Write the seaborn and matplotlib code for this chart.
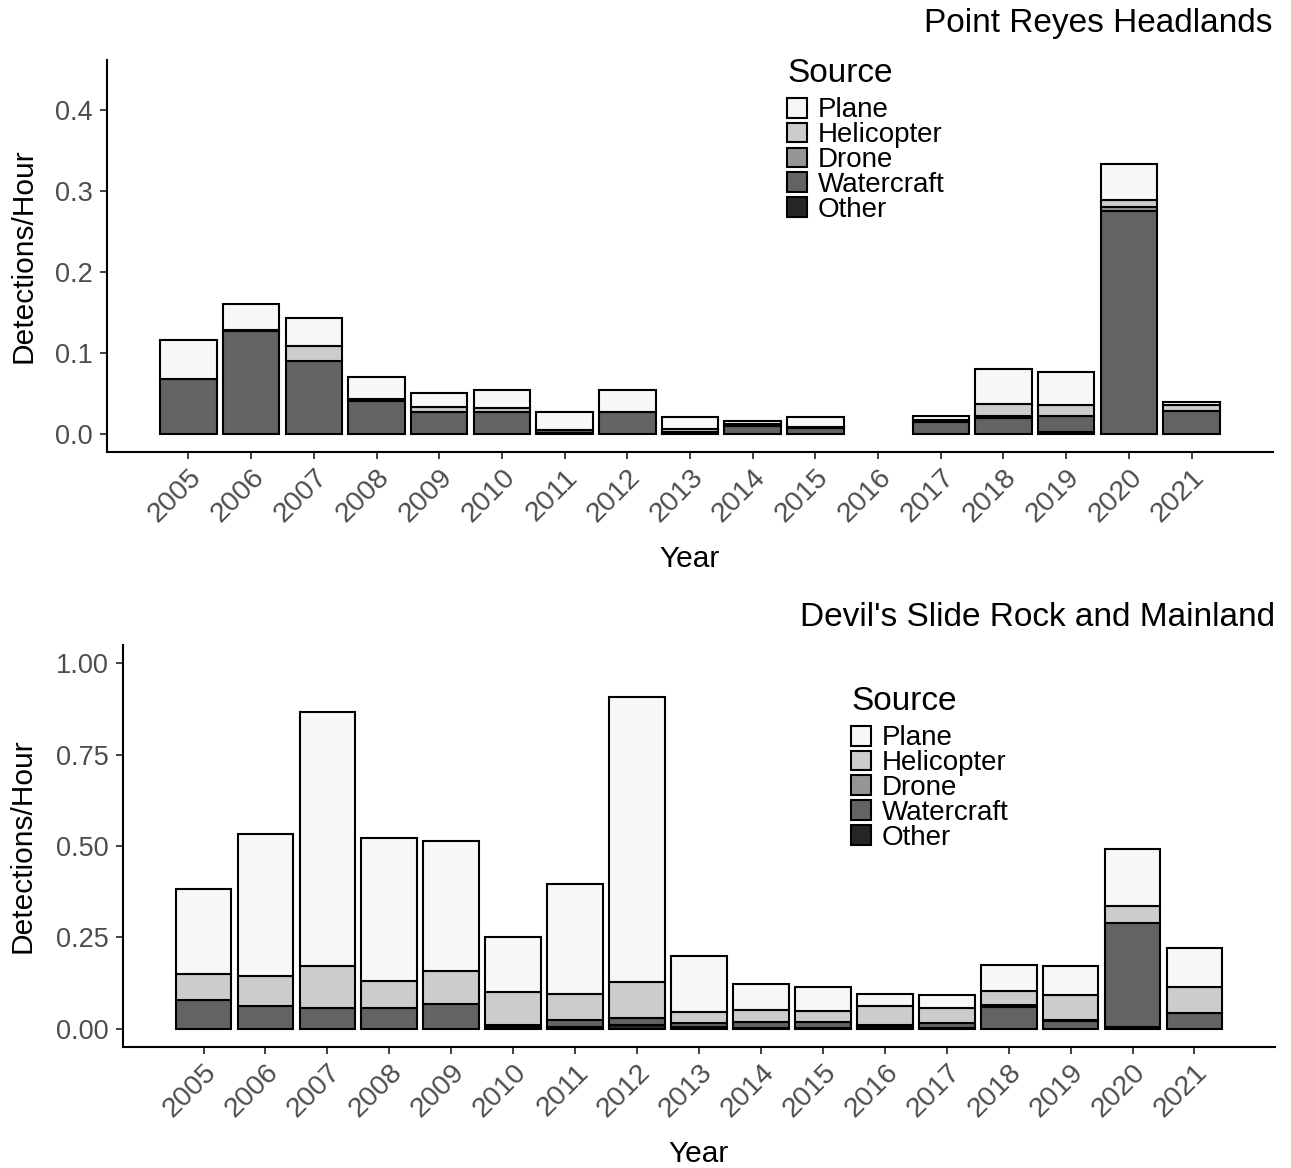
import numpy as np
import pandas as pd
import matplotlib
matplotlib.use("Agg")
import matplotlib.pyplot as plt
from matplotlib.patches import Patch
import seaborn as sns

# ---------------------------------------------------------------- data
years = list(range(2005, 2022))
sources = ["Plane", "Helicopter", "Drone", "Watercraft", "Other"]
source_colors = ["#F7F7F7", "#CCCCCC", "#969696", "#636363", "#252525"]

# Point Reyes Headlands, detections per hour by source
pr_plane      = [0.048, 0.032, 0.035, 0.027, 0.0175, 0.022, 0.022, 0.028, 0.015, 0.003, 0.012, 0.0, 0.004, 0.043, 0.041, 0.045, 0.004]
pr_helicopter = [0.0, 0.002, 0.019, 0.003, 0.0055, 0.005, 0.0, 0.0, 0.003, 0.003, 0.001, 0.0, 0.003, 0.014, 0.013, 0.008, 0.007]
pr_drone      = [0.0, 0.0, 0.0, 0.0, 0.0, 0.0, 0.0, 0.0, 0.0, 0.0, 0.0, 0.0, 0.0, 0.003, 0.0, 0.005, 0.0]
pr_watercraft = [0.068, 0.127, 0.090, 0.041, 0.028, 0.027, 0.004, 0.027, 0.002, 0.010, 0.008, 0.0, 0.015, 0.020, 0.020, 0.276, 0.029]
pr_other      = [0.0, 0.0, 0.0, 0.0, 0.0, 0.0, 0.001, 0.0, 0.001, 0.0, 0.0, 0.0, 0.0, 0.0, 0.003, 0.0, 0.0]

# Devil's Slide Rock and Mainland, detections per hour by source
ds_plane      = [0.230, 0.389, 0.695, 0.390, 0.357, 0.150, 0.300, 0.780, 0.152, 0.070, 0.064, 0.035, 0.034, 0.073, 0.080, 0.158, 0.107]
ds_helicopter = [0.072, 0.082, 0.116, 0.075, 0.089, 0.090, 0.073, 0.099, 0.032, 0.034, 0.031, 0.051, 0.041, 0.038, 0.068, 0.047, 0.072]
ds_drone      = [0.0, 0.0, 0.0, 0.0, 0.0, 0.0, 0.0, 0.0, 0.0, 0.0, 0.0, 0.0, 0.0, 0.004, 0.005, 0.0, 0.0]
ds_watercraft = [0.079, 0.063, 0.057, 0.056, 0.068, 0.006, 0.018, 0.018, 0.010, 0.015, 0.015, 0.005, 0.014, 0.060, 0.020, 0.284, 0.042]
ds_other      = [0.0, 0.0, 0.0, 0.0, 0.0, 0.004, 0.005, 0.010, 0.005, 0.003, 0.003, 0.005, 0.002, 0.0, 0.0, 0.004, 0.0]

pr_title = "Point Reyes Headlands"
ds_title = "Devil's Slide Rock and Mainland"


def long_table(series):
    rows = []
    for name, vals in zip(sources, series):
        for y, v in zip(years, vals):
            rows.append({"Year": y, "Source": name, "Rate": v})
    return pd.DataFrame(rows)


pr_df = long_table([pr_plane, pr_helicopter, pr_drone, pr_watercraft, pr_other])
ds_df = long_table([ds_plane, ds_helicopter, ds_drone, ds_watercraft, ds_other])

# ---------------------------------------------------------------- style
sns.set_theme(style="white")
plt.rcParams["font.family"] = ["Liberation Sans", "DejaVu Sans"]

W, H = 1291, 1168
fig = plt.figure(figsize=(W / 100, H / 100), dpi=100)


def px_axes(left, top, right, bottom):
    return fig.add_axes([left / W, 1 - bottom / H, (right - left) / W, (bottom - top) / H])


ax_top = px_axes(107, 60, 1273, 452)
ax_bot = px_axes(123, 645, 1275, 1047)

palette = dict(zip(sources, source_colors))


def draw_panel(ax, df, title, ylim, yticks, ytick_labels, title_pad, ylab_x, xlab_y, legend_xy):
    sns.histplot(data=df, x="Year", weights="Rate", hue="Source", hue_order=sources,
                 multiple="stack", discrete=True, shrink=0.9, palette=palette,
                 edgecolor="black", linewidth=1.5, alpha=1, legend=False, ax=ax)
    # empty segments carry no mark
    for p in ax.patches:
        if p.get_height() <= 0:
            p.set_visible(False)

    ax.set_xlim(years[0] - 1.3, years[-1] + 1.3)
    ax.set_ylim(*ylim)
    ax.set_xticks(years)
    ax.set_xticklabels([str(y) for y in years], rotation=45, ha="right", va="top",
                       rotation_mode="anchor", color="#4D4D4D", fontsize=20.5)
    ax.set_yticks(yticks)
    ax.set_yticklabels(ytick_labels, color="#4D4D4D", fontsize=19.5)

    for side in ("top", "right"):
        ax.spines[side].set_visible(False)
    for side in ("left", "bottom"):
        ax.spines[side].set_color("black")
        ax.spines[side].set_linewidth(1.5)
    ax.tick_params(axis="both", which="major", length=5, width=1.3, color="#333333",
                   left=True, bottom=True, pad=4)
    ax.tick_params(axis="y", pad=5.5)
    ax.grid(False)

    ax.set_xlabel("Year", fontsize=21.5, color="black")
    ax.set_ylabel("Detections/Hour", fontsize=21.5, color="black")
    ax.xaxis.set_label_coords(0.5, xlab_y)
    ax.yaxis.set_label_coords(ylab_x, 0.5)
    ax.set_title(title, loc="right", fontsize=24, color="black", pad=title_pad)

    handles = [Patch(facecolor=c, edgecolor="black", linewidth=1.5, label=s)
               for s, c in zip(sources, source_colors)]
    leg = ax.legend(handles=handles, title="Source", loc="upper left",
                    bbox_to_anchor=(legend_xy[0] / W, 1 - legend_xy[1] / H),
                    bbox_transform=fig.transFigure, frameon=False, fontsize=20,
                    title_fontsize=24, handlelength=0.72, handleheight=0.72,
                    handletextpad=0.4, labelspacing=-0.04, borderpad=0,
                    borderaxespad=0, alignment="left", labelcolor="black")
    leg.get_title().set_color("black")
    # gap between the legend title and its entries (points)
    leg._legend_box.sep = 6.0


draw_panel(ax_top, pr_df, pr_title, (-0.022, 0.462),
           [0.0, 0.1, 0.2, 0.3, 0.4], ["0.0", "0.1", "0.2", "0.3", "0.4"],
           title_pad=20, ylab_x=-0.060, xlab_y=-0.238, legend_xy=(787, 58))
draw_panel(ax_bot, ds_df, ds_title, (-0.05, 1.05),
           [0.0, 0.25, 0.5, 0.75, 1.0], ["0.00", "0.25", "0.50", "0.75", "1.00"],
           title_pad=14, ylab_x=-0.0747, xlab_y=-0.232, legend_xy=(851, 686))

fig.savefig("out.png", dpi=100, facecolor="white")
